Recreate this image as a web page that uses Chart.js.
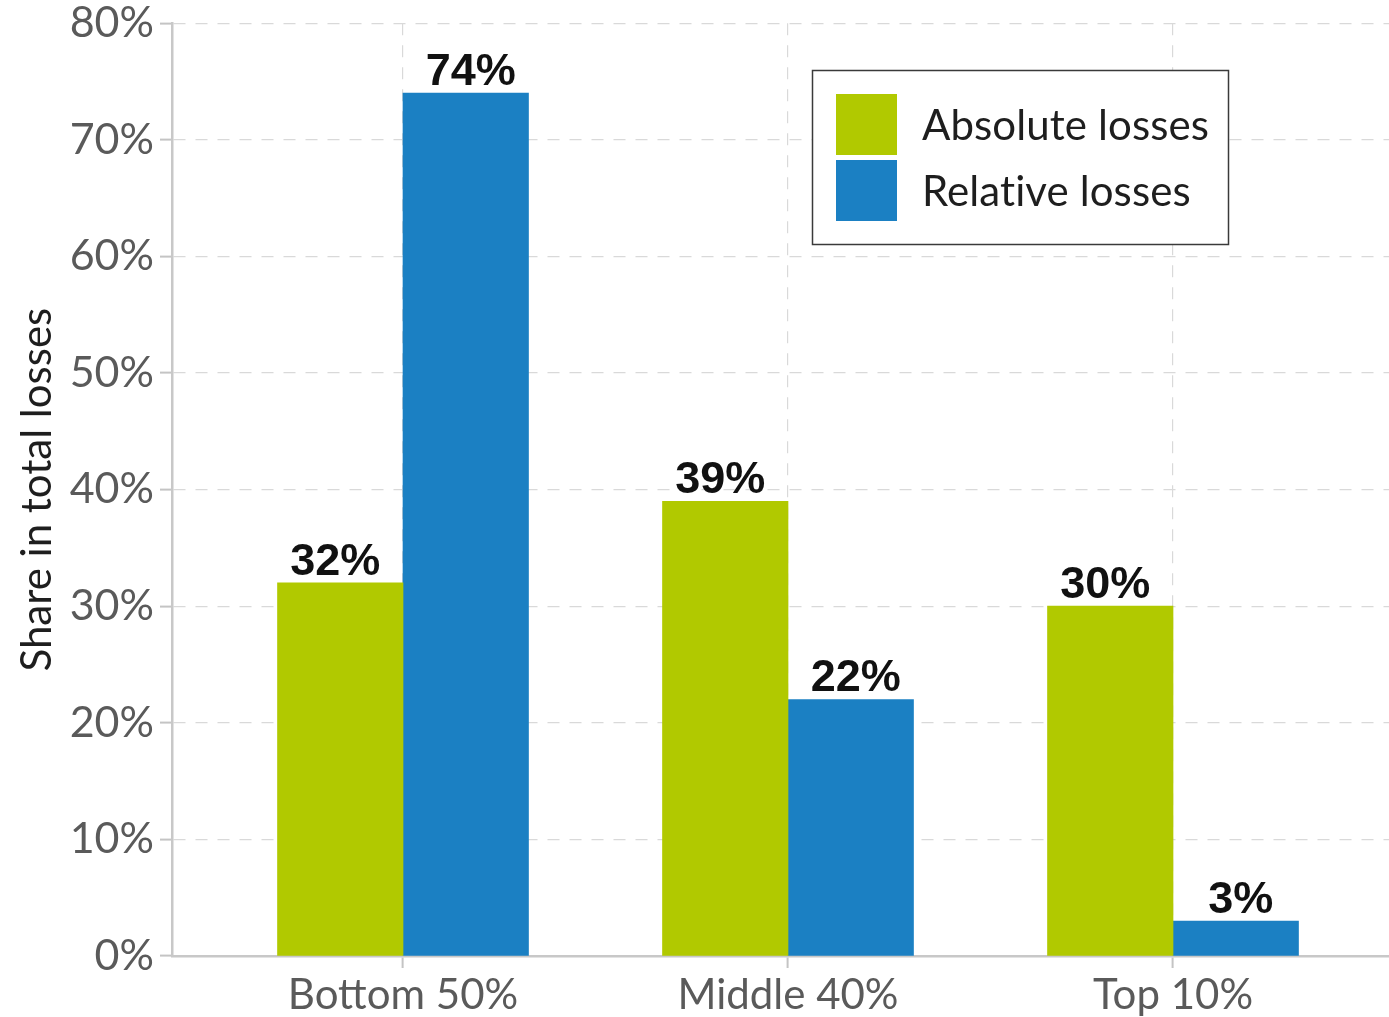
<!DOCTYPE html>
<html>
<head>
<meta charset="utf-8">
<script src="https://cdn.jsdelivr.net/npm/chart.js@4/dist/chart.umd.min.js"></script>
<style>
  html, body { margin: 0; padding: 0; background: #fff; overflow: hidden; }
  #wrap { width: 1404px; height: 1017px; }
</style>
</head>
<body>
<div id="wrap"><canvas id="c" width="1404" height="1017"></canvas></div>
<script>
const categories = ['Bottom 50%', 'Middle 40%', 'Top 10%'];
const seriesNames = ['Absolute losses', 'Relative losses'];
const absoluteLosses = [32, 39, 30];
const relativeLosses = [74, 22, 3];
const yTickValues = [0, 10, 20, 30, 40, 50, 60, 70, 80];
const yTitle = 'Share in total losses';

const GREEN = '#b1c900';
const BLUE = '#1b80c3';
const LATO = 'Lato, "Open Sans", sans-serif';

function toPoints(vals) { return vals.map((v, i) => ({ x: i + 1, y: v })); }

const valueLabels = {
  id: 'valueLabels',
  afterDatasetsDraw(chart) {
    const ctx = chart.ctx;
    ctx.save();
    ctx.font = 'bold 45px "Liberation Sans", Arial, sans-serif';
    ctx.fillStyle = '#111';
    ctx.textAlign = 'center';
    ctx.textBaseline = 'alphabetic';
    const shift = [-5, 5];
    chart.data.datasets.forEach((ds, di) => {
      const meta = chart.getDatasetMeta(di);
      meta.data.forEach((el, i) => {
        ctx.fillText(ds.data[i].y + '%', el.x + shift[di], el.y - 8);
      });
    });
    ctx.restore();
  }
};

const boxLegend = {
  id: 'boxLegend',
  afterDraw(chart) {
    const ctx = chart.ctx;
    ctx.save();
    ctx.fillStyle = '#fff';
    ctx.fillRect(812, 70, 416, 174);
    ctx.strokeStyle = '#3a3a3a';
    ctx.lineWidth = 1.5;
    ctx.strokeRect(812.5, 70.5, 416, 174);
    ctx.font = '42px ' + LATO;
    if ('letterSpacing' in ctx) ctx.letterSpacing = '0.1px';
    ctx.textBaseline = 'alphabetic';
    ctx.textAlign = 'left';
    chart.data.datasets.forEach((ds, i) => {
      const top = 94 + i * 66;
      ctx.fillStyle = ds.backgroundColor;
      ctx.fillRect(836, top, 61, 61);
      ctx.fillStyle = '#1e1e1e';
      ctx.fillText(ds.label, 922, top + 46);
    });
    ctx.restore();
  }
};

const gridStyle = { color: '#d9d9d9', lineWidth: 1.2, tickLength: 12, tickColor: '#c4c4c4', tickWidth: 2, borderDash: [12, 10], offset: false };
const borderStyle = { color: '#c8c8c8', width: 2.5, dash: [12, 10] };

new Chart(document.getElementById('c'), {
  type: 'bar',
  data: {
    datasets: [
      { label: seriesNames[0], data: toPoints(absoluteLosses), backgroundColor: GREEN, barThickness: 125.5 },
      { label: seriesNames[1], data: toPoints(relativeLosses), backgroundColor: BLUE, barThickness: 125.5 }
    ]
  },
  options: {
    responsive: false,
    animation: false,
    devicePixelRatio: 1,
    layout: { padding: { top: 17, right: 0, left: 0, bottom: 0 } },
    plugins: { legend: { display: false }, tooltip: { enabled: false } },
    scales: {
      x: {
        type: 'linear',
        offset: false,
        min: 0.4,
        max: 3.6,
        afterBuildTicks(scale) { scale.ticks = categories.map((c, i) => ({ value: i + 1 })); },
        afterFit(scale) { scale.height = 61; },
        ticks: {
          callback: (v) => categories[Math.round(v) - 1] || '',
          font: { family: LATO, size: 42, lineHeight: 1 },
          color: '#5a5a5a',
          padding: 6,
          maxRotation: 0,
          autoSkip: false
        },
        grid: gridStyle,
        border: borderStyle
      },
      y: {
        min: 0,
        max: 80,
        afterBuildTicks(scale) { scale.ticks = yTickValues.map(v => ({ value: v })); },
        afterFit(scale) { scale.width = 172; },
        ticks: {
          callback: (v) => v + '%',
          font: { family: LATO, size: 43, lineHeight: 0.8 },
          color: '#5a5a5a',
          padding: 6
        },
        title: {
          display: true,
          text: yTitle,
          font: { family: LATO, size: 42, lineHeight: 1 },
          color: '#1e1e1e',
          padding: { top: 16, bottom: 0 }
        },
        grid: gridStyle,
        border: borderStyle
      }
    }
  },
  plugins: [valueLabels, boxLegend]
});
</script>
</body>
</html>
